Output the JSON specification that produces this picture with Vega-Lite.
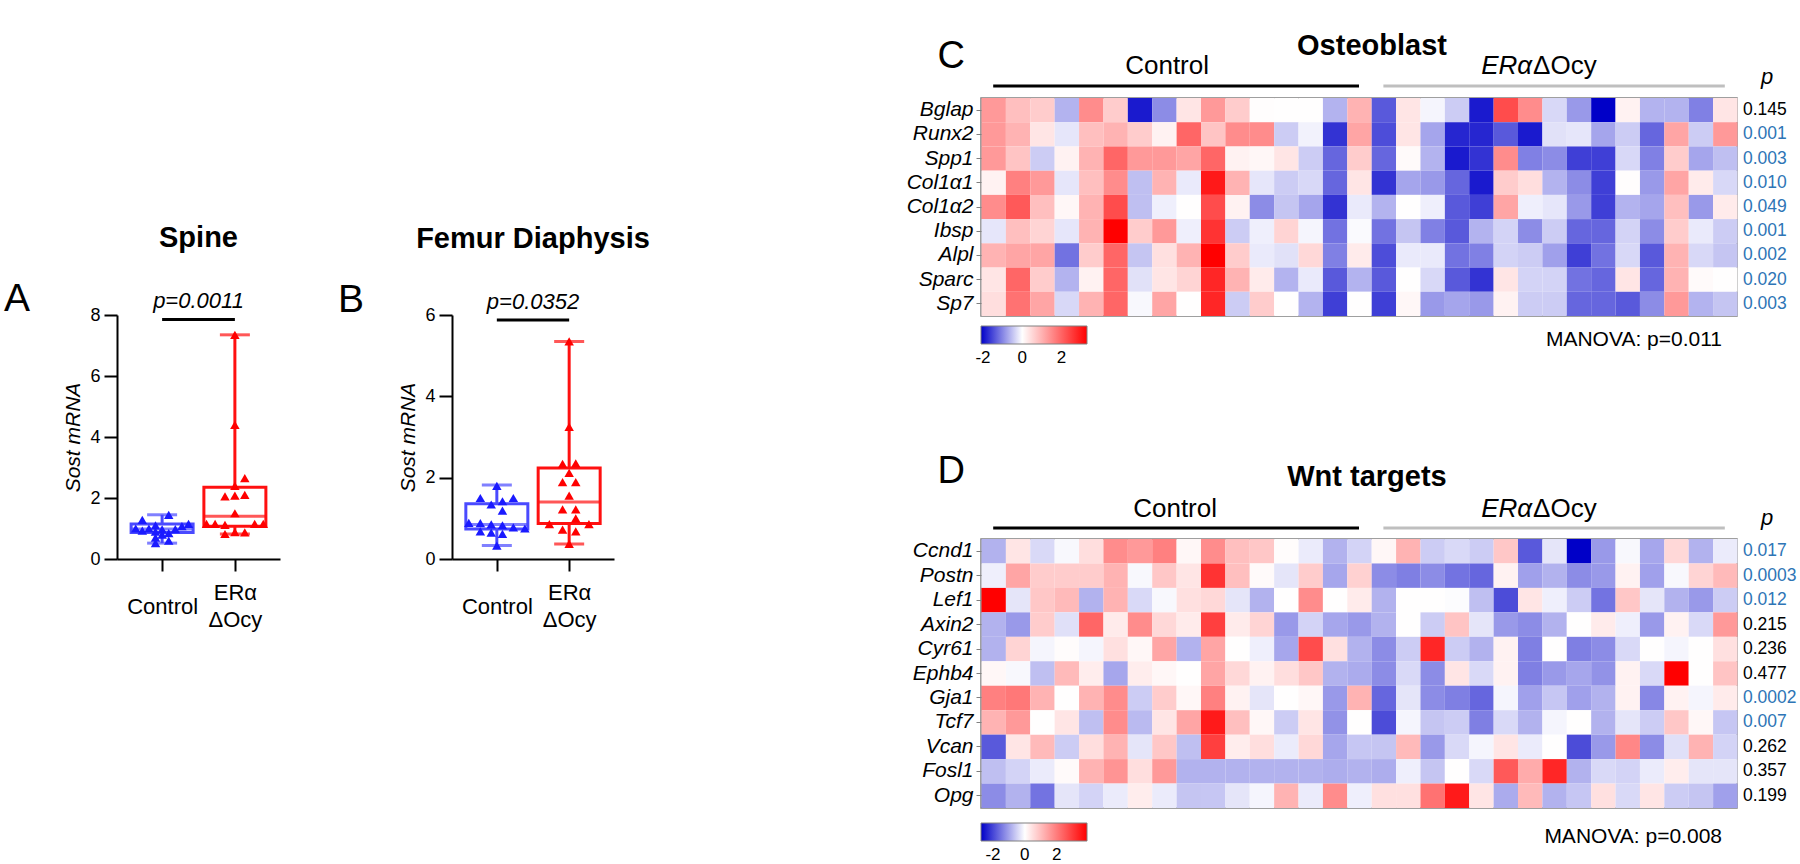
{
"$schema": "https://vega.github.io/schema/vega-lite/v6.json",
"background": "white",
"padding": {"left": 3, "top": 32, "right": 0, "bottom": 0},
"config": {
  "font": "Liberation Sans",
  "view": {"stroke": null},
  "title": {"font": "Liberation Sans", "color": "black", "fontSize": 29, "fontWeight": "bold", "baseline": "alphabetic"},
  "axis": {"labelFont": "Liberation Sans", "titleFont": "Liberation Sans", "labelColor": "black", "titleColor": "black", "grid": false},
  "legend": {"labelFont": "Liberation Sans", "labelColor": "black"},
  "text": {"font": "Liberation Sans"}
},
"datasets": {
  "boxes": [
    {"site": "Spine", "group": "Control", "min": 0.52, "q1": 0.87, "median": 0.98, "q3": 1.15, "max": 1.45},
    {"site": "Spine", "group": "ERα ΔOcy", "min": 0.82, "q1": 1.07, "median": 1.4, "q3": 2.35, "max": 7.35},
    {"site": "Femur", "group": "Control", "min": 0.33, "q1": 0.74, "median": 0.85, "q3": 1.36, "max": 1.82},
    {"site": "Femur", "group": "ERα ΔOcy", "min": 0.37, "q1": 0.87, "median": 1.4, "q3": 2.24, "max": 5.35}
  ],
  "tests": [
    {"site": "Spine", "p": "p=0.0011"},
    {"site": "Femur", "p": "p=0.0352"}
  ],
  "points": [
    {"site": "Spine", "group": "Control", "value": 1.45, "jitter": 1},
    {"site": "Spine", "group": "Control", "value": 1.28, "jitter": -3},
    {"site": "Spine", "group": "Control", "value": 1.15, "jitter": 4},
    {"site": "Spine", "group": "Control", "value": 1.1, "jitter": -1},
    {"site": "Spine", "group": "Control", "value": 1.08, "jitter": 3},
    {"site": "Spine", "group": "Control", "value": 1.0, "jitter": -4},
    {"site": "Spine", "group": "Control", "value": 1.0, "jitter": -2},
    {"site": "Spine", "group": "Control", "value": 0.98, "jitter": 2},
    {"site": "Spine", "group": "Control", "value": 0.97, "jitter": 0},
    {"site": "Spine", "group": "Control", "value": 0.93, "jitter": -3},
    {"site": "Spine", "group": "Control", "value": 0.9, "jitter": -1},
    {"site": "Spine", "group": "Control", "value": 0.85, "jitter": 1},
    {"site": "Spine", "group": "Control", "value": 0.8, "jitter": 0},
    {"site": "Spine", "group": "Control", "value": 0.7, "jitter": -1},
    {"site": "Spine", "group": "Control", "value": 0.6, "jitter": 1},
    {"site": "Spine", "group": "Control", "value": 0.52, "jitter": -1},
    {"site": "Spine", "group": "ERα ΔOcy", "value": 7.35, "jitter": 0},
    {"site": "Spine", "group": "ERα ΔOcy", "value": 4.4, "jitter": 0},
    {"site": "Spine", "group": "ERα ΔOcy", "value": 2.65, "jitter": 1.5},
    {"site": "Spine", "group": "ERα ΔOcy", "value": 2.4, "jitter": 0},
    {"site": "Spine", "group": "ERα ΔOcy", "value": 2.05, "jitter": -1.5},
    {"site": "Spine", "group": "ERα ΔOcy", "value": 2.08, "jitter": 0},
    {"site": "Spine", "group": "ERα ΔOcy", "value": 2.1, "jitter": 1.5},
    {"site": "Spine", "group": "ERα ΔOcy", "value": 1.5, "jitter": 0},
    {"site": "Spine", "group": "ERα ΔOcy", "value": 1.15, "jitter": -4.3},
    {"site": "Spine", "group": "ERα ΔOcy", "value": 1.15, "jitter": -3},
    {"site": "Spine", "group": "ERα ΔOcy", "value": 1.12, "jitter": -1.5},
    {"site": "Spine", "group": "ERα ΔOcy", "value": 1.15, "jitter": 3},
    {"site": "Spine", "group": "ERα ΔOcy", "value": 1.15, "jitter": 4.3},
    {"site": "Spine", "group": "ERα ΔOcy", "value": 0.88, "jitter": 0},
    {"site": "Spine", "group": "ERα ΔOcy", "value": 0.87, "jitter": 1.5},
    {"site": "Spine", "group": "ERα ΔOcy", "value": 0.82, "jitter": -1.5},
    {"site": "Femur", "group": "Control", "value": 1.8, "jitter": 0},
    {"site": "Femur", "group": "Control", "value": 1.5, "jitter": -2.5},
    {"site": "Femur", "group": "Control", "value": 1.5, "jitter": 2.5},
    {"site": "Femur", "group": "Control", "value": 1.42, "jitter": 0.85},
    {"site": "Femur", "group": "Control", "value": 1.34, "jitter": -0.85},
    {"site": "Femur", "group": "Control", "value": 1.19, "jitter": 0.85},
    {"site": "Femur", "group": "Control", "value": 0.89, "jitter": -4.25},
    {"site": "Femur", "group": "Control", "value": 0.88, "jitter": -2.5},
    {"site": "Femur", "group": "Control", "value": 0.85, "jitter": -0.85},
    {"site": "Femur", "group": "Control", "value": 0.83, "jitter": 0.85},
    {"site": "Femur", "group": "Control", "value": 0.78, "jitter": 2.5},
    {"site": "Femur", "group": "Control", "value": 0.75, "jitter": 4.25},
    {"site": "Femur", "group": "Control", "value": 0.68, "jitter": -2.5},
    {"site": "Femur", "group": "Control", "value": 0.65, "jitter": -0.85},
    {"site": "Femur", "group": "Control", "value": 0.62, "jitter": 0.85},
    {"site": "Femur", "group": "Control", "value": 0.33, "jitter": 0},
    {"site": "Femur", "group": "ERα ΔOcy", "value": 5.35, "jitter": 0},
    {"site": "Femur", "group": "ERα ΔOcy", "value": 3.25, "jitter": 0},
    {"site": "Femur", "group": "ERα ΔOcy", "value": 2.34, "jitter": -1},
    {"site": "Femur", "group": "ERα ΔOcy", "value": 2.35, "jitter": 1},
    {"site": "Femur", "group": "ERα ΔOcy", "value": 2.12, "jitter": 0},
    {"site": "Femur", "group": "ERα ΔOcy", "value": 1.89, "jitter": -1},
    {"site": "Femur", "group": "ERα ΔOcy", "value": 1.89, "jitter": 1},
    {"site": "Femur", "group": "ERα ΔOcy", "value": 1.56, "jitter": 0},
    {"site": "Femur", "group": "ERα ΔOcy", "value": 1.22, "jitter": -1},
    {"site": "Femur", "group": "ERα ΔOcy", "value": 1.22, "jitter": 1},
    {"site": "Femur", "group": "ERα ΔOcy", "value": 1.0, "jitter": 1},
    {"site": "Femur", "group": "ERα ΔOcy", "value": 0.86, "jitter": -3},
    {"site": "Femur", "group": "ERα ΔOcy", "value": 0.86, "jitter": 3},
    {"site": "Femur", "group": "ERα ΔOcy", "value": 0.72, "jitter": -1},
    {"site": "Femur", "group": "ERα ΔOcy", "value": 0.68, "jitter": 1},
    {"site": "Femur", "group": "ERα ΔOcy", "value": 0.37, "jitter": 0}
  ],
  "samples": [
    {"sample": 1, "group": "Control"}, {"sample": 2, "group": "Control"}, {"sample": 3, "group": "Control"}, {"sample": 4, "group": "Control"},
    {"sample": 5, "group": "Control"}, {"sample": 6, "group": "Control"}, {"sample": 7, "group": "Control"}, {"sample": 8, "group": "Control"},
    {"sample": 9, "group": "Control"}, {"sample": 10, "group": "Control"}, {"sample": 11, "group": "Control"}, {"sample": 12, "group": "Control"},
    {"sample": 13, "group": "Control"}, {"sample": 14, "group": "Control"}, {"sample": 15, "group": "Control"}, {"sample": 16, "group": "Control"},
    {"sample": 17, "group": "ERα ΔOcy"}, {"sample": 18, "group": "ERα ΔOcy"}, {"sample": 19, "group": "ERα ΔOcy"}, {"sample": 20, "group": "ERα ΔOcy"},
    {"sample": 21, "group": "ERα ΔOcy"}, {"sample": 22, "group": "ERα ΔOcy"}, {"sample": 23, "group": "ERα ΔOcy"}, {"sample": 24, "group": "ERα ΔOcy"},
    {"sample": 25, "group": "ERα ΔOcy"}, {"sample": 26, "group": "ERα ΔOcy"}, {"sample": 27, "group": "ERα ΔOcy"}, {"sample": 28, "group": "ERα ΔOcy"},
    {"sample": 29, "group": "ERα ΔOcy"}, {"sample": 30, "group": "ERα ΔOcy"}, {"sample": 31, "group": "ERα ΔOcy"}
  ],
  "pOsteo": [
    {"gene": "Bglap", "p": "0.145"}, {"gene": "Runx2", "p": "0.001"}, {"gene": "Spp1", "p": "0.003"},
    {"gene": "Col1α1", "p": "0.010"}, {"gene": "Col1α2", "p": "0.049"}, {"gene": "Ibsp", "p": "0.001"},
    {"gene": "Alpl", "p": "0.002"}, {"gene": "Sparc", "p": "0.020"}, {"gene": "Sp7", "p": "0.003"}
  ],
  "pWnt": [
    {"gene": "Ccnd1", "p": "0.017"}, {"gene": "Postn", "p": "0.0003"}, {"gene": "Lef1", "p": "0.012"},
    {"gene": "Axin2", "p": "0.215"}, {"gene": "Cyr61", "p": "0.236"}, {"gene": "Ephb4", "p": "0.477"},
    {"gene": "Gja1", "p": "0.0002"}, {"gene": "Tcf7", "p": "0.007"}, {"gene": "Vcan", "p": "0.262"},
    {"gene": "Fosl1", "p": "0.357"}, {"gene": "Opg", "p": "0.199"}
  ],
  "osteo": [
{"gene":"Bglap","sample":1,"z":1.32},{"gene":"Bglap","sample":2,"z":0.83},{"gene":"Bglap","sample":3,"z":0.66},{"gene":"Bglap","sample":4,"z":-0.63},{"gene":"Bglap","sample":5,"z":1.49},{"gene":"Bglap","sample":6,"z":0.66},{"gene":"Bglap","sample":7,"z":-1.89},{"gene":"Bglap","sample":8,"z":-0.95},{"gene":"Bglap","sample":9,"z":0.33},{"gene":"Bglap","sample":10,"z":1.32},{"gene":"Bglap","sample":11,"z":0.66},{"gene":"Bglap","sample":12,"z":0.02},{"gene":"Bglap","sample":13,"z":0.01},{"gene":"Bglap","sample":14,"z":0.01},{"gene":"Bglap","sample":15,"z":-0.63},{"gene":"Bglap","sample":16,"z":0.99},{"gene":"Bglap","sample":17,"z":-1.37},{"gene":"Bglap","sample":18,"z":0.33},{"gene":"Bglap","sample":19,"z":-0.08},{"gene":"Bglap","sample":20,"z":-0.42},{"gene":"Bglap","sample":21,"z":-1.89},{"gene":"Bglap","sample":22,"z":2.31},{"gene":"Bglap","sample":23,"z":1.49},{"gene":"Bglap","sample":24,"z":-0.32},{"gene":"Bglap","sample":25,"z":-0.84},{"gene":"Bglap","sample":26,"z":-2.1},{"gene":"Bglap","sample":27,"z":0.17},{"gene":"Bglap","sample":28,"z":-0.63},{"gene":"Bglap","sample":29,"z":-0.63},{"gene":"Bglap","sample":30,"z":-1.05},{"gene":"Bglap","sample":31,"z":0.33},
{"gene":"Runx2","sample":1,"z":1.32},{"gene":"Runx2","sample":2,"z":0.99},{"gene":"Runx2","sample":3,"z":0.33},{"gene":"Runx2","sample":4,"z":-0.21},{"gene":"Runx2","sample":5,"z":0.83},{"gene":"Runx2","sample":6,"z":0.99},{"gene":"Runx2","sample":7,"z":0.66},{"gene":"Runx2","sample":8,"z":0.17},{"gene":"Runx2","sample":9,"z":1.98},{"gene":"Runx2","sample":10,"z":0.76},{"gene":"Runx2","sample":11,"z":1.49},{"gene":"Runx2","sample":12,"z":1.49},{"gene":"Runx2","sample":13,"z":-0.42},{"gene":"Runx2","sample":14,"z":-0.11},{"gene":"Runx2","sample":15,"z":-1.68},{"gene":"Runx2","sample":16,"z":1.16},{"gene":"Runx2","sample":17,"z":-1.47},{"gene":"Runx2","sample":18,"z":0.33},{"gene":"Runx2","sample":19,"z":-0.74},{"gene":"Runx2","sample":20,"z":-1.79},{"gene":"Runx2","sample":21,"z":-1.79},{"gene":"Runx2","sample":22,"z":-1.37},{"gene":"Runx2","sample":23,"z":-1.89},{"gene":"Runx2","sample":24,"z":-0.25},{"gene":"Runx2","sample":25,"z":-0.21},{"gene":"Runx2","sample":26,"z":-0.74},{"gene":"Runx2","sample":27,"z":-0.42},{"gene":"Runx2","sample":28,"z":-1.26},{"gene":"Runx2","sample":29,"z":1.16},{"gene":"Runx2","sample":30,"z":-0.42},{"gene":"Runx2","sample":31,"z":1.32},
{"gene":"Spp1","sample":1,"z":1.32},{"gene":"Spp1","sample":2,"z":0.76},{"gene":"Spp1","sample":3,"z":-0.42},{"gene":"Spp1","sample":4,"z":0.17},{"gene":"Spp1","sample":5,"z":0.99},{"gene":"Spp1","sample":6,"z":1.98},{"gene":"Spp1","sample":7,"z":1.32},{"gene":"Spp1","sample":8,"z":1.32},{"gene":"Spp1","sample":9,"z":1.16},{"gene":"Spp1","sample":10,"z":1.98},{"gene":"Spp1","sample":11,"z":0.17},{"gene":"Spp1","sample":12,"z":0.1},{"gene":"Spp1","sample":13,"z":0.33},{"gene":"Spp1","sample":14,"z":-0.42},{"gene":"Spp1","sample":15,"z":-1.26},{"gene":"Spp1","sample":16,"z":0.66},{"gene":"Spp1","sample":17,"z":-1.26},{"gene":"Spp1","sample":18,"z":0.07},{"gene":"Spp1","sample":19,"z":-0.63},{"gene":"Spp1","sample":20,"z":-1.89},{"gene":"Spp1","sample":21,"z":-1.68},{"gene":"Spp1","sample":22,"z":1.49},{"gene":"Spp1","sample":23,"z":-1.05},{"gene":"Spp1","sample":24,"z":-0.95},{"gene":"Spp1","sample":25,"z":-1.58},{"gene":"Spp1","sample":26,"z":-1.58},{"gene":"Spp1","sample":27,"z":-0.32},{"gene":"Spp1","sample":28,"z":-1.05},{"gene":"Spp1","sample":29,"z":0.66},{"gene":"Spp1","sample":30,"z":-0.74},{"gene":"Spp1","sample":31,"z":-0.53},
{"gene":"Col1α1","sample":1,"z":0.17},{"gene":"Col1α1","sample":2,"z":1.65},{"gene":"Col1α1","sample":3,"z":1.32},{"gene":"Col1α1","sample":4,"z":-0.21},{"gene":"Col1α1","sample":5,"z":0.83},{"gene":"Col1α1","sample":6,"z":1.49},{"gene":"Col1α1","sample":7,"z":-0.53},{"gene":"Col1α1","sample":8,"z":0.99},{"gene":"Col1α1","sample":9,"z":-0.17},{"gene":"Col1α1","sample":10,"z":2.97},{"gene":"Col1α1","sample":11,"z":0.99},{"gene":"Col1α1","sample":12,"z":-0.21},{"gene":"Col1α1","sample":13,"z":-0.42},{"gene":"Col1α1","sample":14,"z":-0.32},{"gene":"Col1α1","sample":15,"z":-1.26},{"gene":"Col1α1","sample":16,"z":0.33},{"gene":"Col1α1","sample":17,"z":-1.68},{"gene":"Col1α1","sample":18,"z":-0.74},{"gene":"Col1α1","sample":19,"z":-0.84},{"gene":"Col1α1","sample":20,"z":-1.26},{"gene":"Col1α1","sample":21,"z":-1.89},{"gene":"Col1α1","sample":22,"z":0.66},{"gene":"Col1α1","sample":23,"z":0.43},{"gene":"Col1α1","sample":24,"z":-0.63},{"gene":"Col1α1","sample":25,"z":-0.95},{"gene":"Col1α1","sample":26,"z":-1.58},{"gene":"Col1α1","sample":27,"z":0.03},{"gene":"Col1α1","sample":28,"z":-0.84},{"gene":"Col1α1","sample":29,"z":1.16},{"gene":"Col1α1","sample":30,"z":0.26},{"gene":"Col1α1","sample":31,"z":-0.32},
{"gene":"Col1α2","sample":1,"z":1.49},{"gene":"Col1α2","sample":2,"z":2.15},{"gene":"Col1α2","sample":3,"z":0.83},{"gene":"Col1α2","sample":4,"z":0.1},{"gene":"Col1α2","sample":5,"z":0.99},{"gene":"Col1α2","sample":6,"z":2.31},{"gene":"Col1α2","sample":7,"z":-0.53},{"gene":"Col1α2","sample":8,"z":-0.13},{"gene":"Col1α2","sample":9,"z":0.01},{"gene":"Col1α2","sample":10,"z":2.31},{"gene":"Col1α2","sample":11,"z":0.17},{"gene":"Col1α2","sample":12,"z":-0.95},{"gene":"Col1α2","sample":13,"z":-0.48},{"gene":"Col1α2","sample":14,"z":-0.74},{"gene":"Col1α2","sample":15,"z":-1.68},{"gene":"Col1α2","sample":16,"z":-0.17},{"gene":"Col1α2","sample":17,"z":-0.63},{"gene":"Col1α2","sample":18,"z":0.01},{"gene":"Col1α2","sample":19,"z":-0.13},{"gene":"Col1α2","sample":20,"z":-1.37},{"gene":"Col1α2","sample":21,"z":-1.58},{"gene":"Col1α2","sample":22,"z":1.16},{"gene":"Col1α2","sample":23,"z":-0.13},{"gene":"Col1α2","sample":24,"z":-0.21},{"gene":"Col1α2","sample":25,"z":-0.84},{"gene":"Col1α2","sample":26,"z":-1.58},{"gene":"Col1α2","sample":27,"z":-0.63},{"gene":"Col1α2","sample":28,"z":-0.74},{"gene":"Col1α2","sample":29,"z":0.83},{"gene":"Col1α2","sample":30,"z":-0.84},{"gene":"Col1α2","sample":31,"z":0.26},
{"gene":"Ibsp","sample":1,"z":-0.21},{"gene":"Ibsp","sample":2,"z":0.83},{"gene":"Ibsp","sample":3,"z":0.56},{"gene":"Ibsp","sample":4,"z":-0.21},{"gene":"Ibsp","sample":5,"z":0.99},{"gene":"Ibsp","sample":6,"z":3.3},{"gene":"Ibsp","sample":7,"z":0.66},{"gene":"Ibsp","sample":8,"z":1.32},{"gene":"Ibsp","sample":9,"z":-0.13},{"gene":"Ibsp","sample":10,"z":2.64},{"gene":"Ibsp","sample":11,"z":-0.42},{"gene":"Ibsp","sample":12,"z":-0.13},{"gene":"Ibsp","sample":13,"z":0.56},{"gene":"Ibsp","sample":14,"z":-0.08},{"gene":"Ibsp","sample":15,"z":-1.16},{"gene":"Ibsp","sample":16,"z":-0.04},{"gene":"Ibsp","sample":17,"z":-1.16},{"gene":"Ibsp","sample":18,"z":-0.48},{"gene":"Ibsp","sample":19,"z":-1.05},{"gene":"Ibsp","sample":20,"z":-1.37},{"gene":"Ibsp","sample":21,"z":-0.63},{"gene":"Ibsp","sample":22,"z":-0.36},{"gene":"Ibsp","sample":23,"z":-0.95},{"gene":"Ibsp","sample":24,"z":-0.42},{"gene":"Ibsp","sample":25,"z":-1.26},{"gene":"Ibsp","sample":26,"z":-1.26},{"gene":"Ibsp","sample":27,"z":-0.36},{"gene":"Ibsp","sample":28,"z":-0.95},{"gene":"Ibsp","sample":29,"z":0.66},{"gene":"Ibsp","sample":30,"z":-0.17},{"gene":"Ibsp","sample":31,"z":-0.42},
{"gene":"Alpl","sample":1,"z":0.99},{"gene":"Alpl","sample":2,"z":1.16},{"gene":"Alpl","sample":3,"z":1.16},{"gene":"Alpl","sample":4,"z":-1.16},{"gene":"Alpl","sample":5,"z":0.66},{"gene":"Alpl","sample":6,"z":1.98},{"gene":"Alpl","sample":7,"z":-0.48},{"gene":"Alpl","sample":8,"z":0.4},{"gene":"Alpl","sample":9,"z":0.99},{"gene":"Alpl","sample":10,"z":3.3},{"gene":"Alpl","sample":11,"z":0.66},{"gene":"Alpl","sample":12,"z":-0.17},{"gene":"Alpl","sample":13,"z":-0.25},{"gene":"Alpl","sample":14,"z":0.5},{"gene":"Alpl","sample":15,"z":-1.05},{"gene":"Alpl","sample":16,"z":0.26},{"gene":"Alpl","sample":17,"z":-1.47},{"gene":"Alpl","sample":18,"z":-0.17},{"gene":"Alpl","sample":19,"z":-0.17},{"gene":"Alpl","sample":20,"z":-1.16},{"gene":"Alpl","sample":21,"z":-1.05},{"gene":"Alpl","sample":22,"z":-0.36},{"gene":"Alpl","sample":23,"z":-0.42},{"gene":"Alpl","sample":24,"z":-0.78},{"gene":"Alpl","sample":25,"z":-1.58},{"gene":"Alpl","sample":26,"z":-1.16},{"gene":"Alpl","sample":27,"z":-0.32},{"gene":"Alpl","sample":28,"z":-1.37},{"gene":"Alpl","sample":29,"z":0.99},{"gene":"Alpl","sample":30,"z":-0.32},{"gene":"Alpl","sample":31,"z":-0.48},
{"gene":"Sparc","sample":1,"z":0.33},{"gene":"Sparc","sample":2,"z":1.98},{"gene":"Sparc","sample":3,"z":0.66},{"gene":"Sparc","sample":4,"z":-0.63},{"gene":"Sparc","sample":5,"z":0.17},{"gene":"Sparc","sample":6,"z":1.98},{"gene":"Sparc","sample":7,"z":-0.25},{"gene":"Sparc","sample":8,"z":0.33},{"gene":"Sparc","sample":9,"z":0.56},{"gene":"Sparc","sample":10,"z":2.81},{"gene":"Sparc","sample":11,"z":0.99},{"gene":"Sparc","sample":12,"z":0.26},{"gene":"Sparc","sample":13,"z":-0.63},{"gene":"Sparc","sample":14,"z":-0.17},{"gene":"Sparc","sample":15,"z":-1.37},{"gene":"Sparc","sample":16,"z":-0.63},{"gene":"Sparc","sample":17,"z":-1.37},{"gene":"Sparc","sample":18,"z":0.01},{"gene":"Sparc","sample":19,"z":-0.32},{"gene":"Sparc","sample":20,"z":-1.37},{"gene":"Sparc","sample":21,"z":-1.68},{"gene":"Sparc","sample":22,"z":0.33},{"gene":"Sparc","sample":23,"z":-0.36},{"gene":"Sparc","sample":24,"z":-0.36},{"gene":"Sparc","sample":25,"z":-1.16},{"gene":"Sparc","sample":26,"z":-1.26},{"gene":"Sparc","sample":27,"z":0.33},{"gene":"Sparc","sample":28,"z":-1.26},{"gene":"Sparc","sample":29,"z":0.99},{"gene":"Sparc","sample":30,"z":0.07},{"gene":"Sparc","sample":31,"z":0.01},
{"gene":"Sp7","sample":1,"z":0.43},{"gene":"Sp7","sample":2,"z":1.82},{"gene":"Sp7","sample":3,"z":1.16},{"gene":"Sp7","sample":4,"z":-0.32},{"gene":"Sp7","sample":5,"z":0.99},{"gene":"Sp7","sample":6,"z":1.98},{"gene":"Sp7","sample":7,"z":-0.06},{"gene":"Sp7","sample":8,"z":1.16},{"gene":"Sp7","sample":9,"z":0.01},{"gene":"Sp7","sample":10,"z":2.81},{"gene":"Sp7","sample":11,"z":-0.42},{"gene":"Sp7","sample":12,"z":0.66},{"gene":"Sp7","sample":13,"z":0.01},{"gene":"Sp7","sample":14,"z":-0.63},{"gene":"Sp7","sample":15,"z":-1.58},{"gene":"Sp7","sample":16,"z":0.01},{"gene":"Sp7","sample":17,"z":-1.58},{"gene":"Sp7","sample":18,"z":0.1},{"gene":"Sp7","sample":19,"z":-0.84},{"gene":"Sp7","sample":20,"z":-0.74},{"gene":"Sp7","sample":21,"z":-0.84},{"gene":"Sp7","sample":22,"z":0.17},{"gene":"Sp7","sample":23,"z":-0.42},{"gene":"Sp7","sample":24,"z":-0.42},{"gene":"Sp7","sample":25,"z":-1.26},{"gene":"Sp7","sample":26,"z":-1.26},{"gene":"Sp7","sample":27,"z":-1.37},{"gene":"Sp7","sample":28,"z":-0.95},{"gene":"Sp7","sample":29,"z":1.32},{"gene":"Sp7","sample":30,"z":-0.63},{"gene":"Sp7","sample":31,"z":-0.48}
  ],
  "wnt": [
{"gene":"Ccnd1","sample":1,"z":-0.83},{"gene":"Ccnd1","sample":2,"z":0.39},{"gene":"Ccnd1","sample":3,"z":-0.41},{"gene":"Ccnd1","sample":4,"z":-0.08},{"gene":"Ccnd1","sample":5,"z":0.51},{"gene":"Ccnd1","sample":6,"z":1.76},{"gene":"Ccnd1","sample":7,"z":1.56},{"gene":"Ccnd1","sample":8,"z":1.95},{"gene":"Ccnd1","sample":9,"z":0.12},{"gene":"Ccnd1","sample":10,"z":1.76},{"gene":"Ccnd1","sample":11,"z":0.98},{"gene":"Ccnd1","sample":12,"z":0.86},{"gene":"Ccnd1","sample":13,"z":0.04},{"gene":"Ccnd1","sample":14,"z":-0.22},{"gene":"Ccnd1","sample":15,"z":-0.83},{"gene":"Ccnd1","sample":16,"z":-0.47},{"gene":"Ccnd1","sample":17,"z":0.12},{"gene":"Ccnd1","sample":18,"z":1.17},{"gene":"Ccnd1","sample":19,"z":-0.55},{"gene":"Ccnd1","sample":20,"z":-0.41},{"gene":"Ccnd1","sample":21,"z":-0.55},{"gene":"Ccnd1","sample":22,"z":0.86},{"gene":"Ccnd1","sample":23,"z":-1.79},{"gene":"Ccnd1","sample":24,"z":-0.28},{"gene":"Ccnd1","sample":25,"z":-2.75},{"gene":"Ccnd1","sample":26,"z":-1.1},{"gene":"Ccnd1","sample":27,"z":-0.08},{"gene":"Ccnd1","sample":28,"z":-0.96},{"gene":"Ccnd1","sample":29,"z":0.59},{"gene":"Ccnd1","sample":30,"z":-0.83},{"gene":"Ccnd1","sample":31,"z":-0.22},
{"gene":"Postn","sample":1,"z":-0.17},{"gene":"Postn","sample":2,"z":1.37},{"gene":"Postn","sample":3,"z":0.78},{"gene":"Postn","sample":4,"z":0.78},{"gene":"Postn","sample":5,"z":0.78},{"gene":"Postn","sample":6,"z":1.17},{"gene":"Postn","sample":7,"z":-0.08},{"gene":"Postn","sample":8,"z":0.86},{"gene":"Postn","sample":9,"z":0.39},{"gene":"Postn","sample":10,"z":3.12},{"gene":"Postn","sample":11,"z":0.98},{"gene":"Postn","sample":12,"z":0.08},{"gene":"Postn","sample":13,"z":-0.28},{"gene":"Postn","sample":14,"z":0.78},{"gene":"Postn","sample":15,"z":-0.96},{"gene":"Postn","sample":16,"z":0.7},{"gene":"Postn","sample":17,"z":-1.24},{"gene":"Postn","sample":18,"z":-1.38},{"gene":"Postn","sample":19,"z":-1.24},{"gene":"Postn","sample":20,"z":-1.51},{"gene":"Postn","sample":21,"z":-1.65},{"gene":"Postn","sample":22,"z":0.2},{"gene":"Postn","sample":23,"z":-1.02},{"gene":"Postn","sample":24,"z":-0.83},{"gene":"Postn","sample":25,"z":-1.24},{"gene":"Postn","sample":26,"z":-1.1},{"gene":"Postn","sample":27,"z":0.2},{"gene":"Postn","sample":28,"z":-1.02},{"gene":"Postn","sample":29,"z":-0.08},{"gene":"Postn","sample":30,"z":0.66},{"gene":"Postn","sample":31,"z":1.05},
{"gene":"Lef1","sample":1,"z":3.9},{"gene":"Lef1","sample":2,"z":-0.28},{"gene":"Lef1","sample":3,"z":0.86},{"gene":"Lef1","sample":4,"z":1.05},{"gene":"Lef1","sample":5,"z":-0.83},{"gene":"Lef1","sample":6,"z":1.17},{"gene":"Lef1","sample":7,"z":-0.41},{"gene":"Lef1","sample":8,"z":-0.08},{"gene":"Lef1","sample":9,"z":0.47},{"gene":"Lef1","sample":10,"z":0.59},{"gene":"Lef1","sample":11,"z":-0.28},{"gene":"Lef1","sample":12,"z":-0.83},{"gene":"Lef1","sample":13,"z":0.01},{"gene":"Lef1","sample":14,"z":1.76},{"gene":"Lef1","sample":15,"z":0.02},{"gene":"Lef1","sample":16,"z":0.31},{"gene":"Lef1","sample":17,"z":-0.83},{"gene":"Lef1","sample":18,"z":0.01},{"gene":"Lef1","sample":19,"z":0.01},{"gene":"Lef1","sample":20,"z":-0.03},{"gene":"Lef1","sample":21,"z":-0.69},{"gene":"Lef1","sample":22,"z":-1.93},{"gene":"Lef1","sample":23,"z":0.39},{"gene":"Lef1","sample":24,"z":-0.17},{"gene":"Lef1","sample":25,"z":-0.55},{"gene":"Lef1","sample":26,"z":-1.51},{"gene":"Lef1","sample":27,"z":0.86},{"gene":"Lef1","sample":28,"z":-0.28},{"gene":"Lef1","sample":29,"z":-0.83},{"gene":"Lef1","sample":30,"z":-1.1},{"gene":"Lef1","sample":31,"z":-0.55},
{"gene":"Axin2","sample":1,"z":-0.83},{"gene":"Axin2","sample":2,"z":-1.1},{"gene":"Axin2","sample":3,"z":0.78},{"gene":"Axin2","sample":4,"z":-0.33},{"gene":"Axin2","sample":5,"z":2.34},{"gene":"Axin2","sample":6,"z":0.31},{"gene":"Axin2","sample":7,"z":1.76},{"gene":"Axin2","sample":8,"z":0.59},{"gene":"Axin2","sample":9,"z":0.31},{"gene":"Axin2","sample":10,"z":2.93},{"gene":"Axin2","sample":11,"z":0.31},{"gene":"Axin2","sample":12,"z":0.66},{"gene":"Axin2","sample":13,"z":-1.1},{"gene":"Axin2","sample":14,"z":-0.47},{"gene":"Axin2","sample":15,"z":-0.96},{"gene":"Axin2","sample":16,"z":-1.1},{"gene":"Axin2","sample":17,"z":-0.83},{"gene":"Axin2","sample":18,"z":0.01},{"gene":"Axin2","sample":19,"z":-0.55},{"gene":"Axin2","sample":20,"z":0.9},{"gene":"Axin2","sample":21,"z":-0.28},{"gene":"Axin2","sample":22,"z":-1.1},{"gene":"Axin2","sample":23,"z":-1.24},{"gene":"Axin2","sample":24,"z":-0.83},{"gene":"Axin2","sample":25,"z":0.01},{"gene":"Axin2","sample":26,"z":0.31},{"gene":"Axin2","sample":27,"z":-0.17},{"gene":"Axin2","sample":28,"z":-1.1},{"gene":"Axin2","sample":29,"z":0.2},{"gene":"Axin2","sample":30,"z":-0.41},{"gene":"Axin2","sample":31,"z":1.56},
{"gene":"Cyr61","sample":1,"z":-0.83},{"gene":"Cyr61","sample":2,"z":0.66},{"gene":"Cyr61","sample":3,"z":-0.11},{"gene":"Cyr61","sample":4,"z":0.04},{"gene":"Cyr61","sample":5,"z":-0.11},{"gene":"Cyr61","sample":6,"z":0.47},{"gene":"Cyr61","sample":7,"z":0.12},{"gene":"Cyr61","sample":8,"z":1.37},{"gene":"Cyr61","sample":9,"z":-0.83},{"gene":"Cyr61","sample":10,"z":1.37},{"gene":"Cyr61","sample":11,"z":0.01},{"gene":"Cyr61","sample":12,"z":-0.17},{"gene":"Cyr61","sample":13,"z":-0.96},{"gene":"Cyr61","sample":14,"z":2.73},{"gene":"Cyr61","sample":15,"z":0.47},{"gene":"Cyr61","sample":16,"z":-0.83},{"gene":"Cyr61","sample":17,"z":-1.24},{"gene":"Cyr61","sample":18,"z":-0.55},{"gene":"Cyr61","sample":19,"z":3.32},{"gene":"Cyr61","sample":20,"z":-0.55},{"gene":"Cyr61","sample":21,"z":-0.83},{"gene":"Cyr61","sample":22,"z":0.2},{"gene":"Cyr61","sample":23,"z":-1.38},{"gene":"Cyr61","sample":24,"z":0.01},{"gene":"Cyr61","sample":25,"z":-1.38},{"gene":"Cyr61","sample":26,"z":-1.24},{"gene":"Cyr61","sample":27,"z":-0.41},{"gene":"Cyr61","sample":28,"z":0.01},{"gene":"Cyr61","sample":29,"z":-0.11},{"gene":"Cyr61","sample":30,"z":0.01},{"gene":"Cyr61","sample":31,"z":0.47},
{"gene":"Ephb4","sample":1,"z":0.12},{"gene":"Ephb4","sample":2,"z":-0.08},{"gene":"Ephb4","sample":3,"z":-0.69},{"gene":"Ephb4","sample":4,"z":1.05},{"gene":"Ephb4","sample":5,"z":0.27},{"gene":"Ephb4","sample":6,"z":-0.96},{"gene":"Ephb4","sample":7,"z":0.27},{"gene":"Ephb4","sample":8,"z":0.12},{"gene":"Ephb4","sample":9,"z":0.01},{"gene":"Ephb4","sample":10,"z":1.37},{"gene":"Ephb4","sample":11,"z":0.59},{"gene":"Ephb4","sample":12,"z":0.2},{"gene":"Ephb4","sample":13,"z":0.51},{"gene":"Ephb4","sample":14,"z":0.86},{"gene":"Ephb4","sample":15,"z":-0.83},{"gene":"Ephb4","sample":16,"z":-0.91},{"gene":"Ephb4","sample":17,"z":-1.24},{"gene":"Ephb4","sample":18,"z":-0.41},{"gene":"Ephb4","sample":19,"z":-1.24},{"gene":"Ephb4","sample":20,"z":0.39},{"gene":"Ephb4","sample":21,"z":-0.41},{"gene":"Ephb4","sample":22,"z":0.2},{"gene":"Ephb4","sample":23,"z":-1.38},{"gene":"Ephb4","sample":24,"z":-1.1},{"gene":"Ephb4","sample":25,"z":-0.96},{"gene":"Ephb4","sample":26,"z":-1.18},{"gene":"Ephb4","sample":27,"z":0.2},{"gene":"Ephb4","sample":28,"z":-0.41},{"gene":"Ephb4","sample":29,"z":3.9},{"gene":"Ephb4","sample":30,"z":0.01},{"gene":"Ephb4","sample":31,"z":0.9},
{"gene":"Gja1","sample":1,"z":1.95},{"gene":"Gja1","sample":2,"z":2.07},{"gene":"Gja1","sample":3,"z":1.17},{"gene":"Gja1","sample":4,"z":0.01},{"gene":"Gja1","sample":5,"z":1.17},{"gene":"Gja1","sample":6,"z":1.76},{"gene":"Gja1","sample":7,"z":-0.55},{"gene":"Gja1","sample":8,"z":0.78},{"gene":"Gja1","sample":9,"z":0.12},{"gene":"Gja1","sample":10,"z":1.95},{"gene":"Gja1","sample":11,"z":0.2},{"gene":"Gja1","sample":12,"z":-0.28},{"gene":"Gja1","sample":13,"z":0.01},{"gene":"Gja1","sample":14,"z":0.12},{"gene":"Gja1","sample":15,"z":-1.1},{"gene":"Gja1","sample":16,"z":1.17},{"gene":"Gja1","sample":17,"z":-1.65},{"gene":"Gja1","sample":18,"z":-0.28},{"gene":"Gja1","sample":19,"z":-1.24},{"gene":"Gja1","sample":20,"z":-1.38},{"gene":"Gja1","sample":21,"z":-1.65},{"gene":"Gja1","sample":22,"z":-0.11},{"gene":"Gja1","sample":23,"z":-1.02},{"gene":"Gja1","sample":24,"z":-0.61},{"gene":"Gja1","sample":25,"z":-1.02},{"gene":"Gja1","sample":26,"z":-0.83},{"gene":"Gja1","sample":27,"z":0.2},{"gene":"Gja1","sample":28,"z":-1.29},{"gene":"Gja1","sample":29,"z":0.2},{"gene":"Gja1","sample":30,"z":-0.11},{"gene":"Gja1","sample":31,"z":0.31},
{"gene":"Tcf7","sample":1,"z":1.17},{"gene":"Tcf7","sample":2,"z":1.56},{"gene":"Tcf7","sample":3,"z":0.01},{"gene":"Tcf7","sample":4,"z":0.39},{"gene":"Tcf7","sample":5,"z":-0.69},{"gene":"Tcf7","sample":6,"z":1.76},{"gene":"Tcf7","sample":7,"z":-0.74},{"gene":"Tcf7","sample":8,"z":0.39},{"gene":"Tcf7","sample":9,"z":1.37},{"gene":"Tcf7","sample":10,"z":3.51},{"gene":"Tcf7","sample":11,"z":0.98},{"gene":"Tcf7","sample":12,"z":0.12},{"gene":"Tcf7","sample":13,"z":-0.55},{"gene":"Tcf7","sample":14,"z":0.39},{"gene":"Tcf7","sample":15,"z":-1.18},{"gene":"Tcf7","sample":16,"z":0.01},{"gene":"Tcf7","sample":17,"z":-1.93},{"gene":"Tcf7","sample":18,"z":-0.11},{"gene":"Tcf7","sample":19,"z":-0.63},{"gene":"Tcf7","sample":20,"z":-0.55},{"gene":"Tcf7","sample":21,"z":-1.38},{"gene":"Tcf7","sample":22,"z":-0.41},{"gene":"Tcf7","sample":23,"z":-0.83},{"gene":"Tcf7","sample":24,"z":-0.11},{"gene":"Tcf7","sample":25,"z":0.01},{"gene":"Tcf7","sample":26,"z":-0.83},{"gene":"Tcf7","sample":27,"z":-0.28},{"gene":"Tcf7","sample":28,"z":-0.55},{"gene":"Tcf7","sample":29,"z":0.86},{"gene":"Tcf7","sample":30,"z":0.12},{"gene":"Tcf7","sample":31,"z":-0.61},
{"gene":"Vcan","sample":1,"z":-1.79},{"gene":"Vcan","sample":2,"z":0.39},{"gene":"Vcan","sample":3,"z":1.05},{"gene":"Vcan","sample":4,"z":-0.55},{"gene":"Vcan","sample":5,"z":0.51},{"gene":"Vcan","sample":6,"z":1.17},{"gene":"Vcan","sample":7,"z":-0.28},{"gene":"Vcan","sample":8,"z":0.86},{"gene":"Vcan","sample":9,"z":-0.69},{"gene":"Vcan","sample":10,"z":2.93},{"gene":"Vcan","sample":11,"z":0.27},{"gene":"Vcan","sample":12,"z":0.51},{"gene":"Vcan","sample":13,"z":-0.22},{"gene":"Vcan","sample":14,"z":0.59},{"gene":"Vcan","sample":15,"z":-0.96},{"gene":"Vcan","sample":16,"z":-0.61},{"gene":"Vcan","sample":17,"z":-0.63},{"gene":"Vcan","sample":18,"z":1.05},{"gene":"Vcan","sample":19,"z":-1.1},{"gene":"Vcan","sample":20,"z":-0.41},{"gene":"Vcan","sample":21,"z":-0.11},{"gene":"Vcan","sample":22,"z":0.39},{"gene":"Vcan","sample":23,"z":-0.22},{"gene":"Vcan","sample":24,"z":0.01},{"gene":"Vcan","sample":25,"z":-1.93},{"gene":"Vcan","sample":26,"z":-1.1},{"gene":"Vcan","sample":27,"z":1.83},{"gene":"Vcan","sample":28,"z":-1.24},{"gene":"Vcan","sample":29,"z":-0.33},{"gene":"Vcan","sample":30,"z":1.17},{"gene":"Vcan","sample":31,"z":-0.47},
{"gene":"Fosl1","sample":1,"z":-0.69},{"gene":"Fosl1","sample":2,"z":-0.47},{"gene":"Fosl1","sample":3,"z":-0.22},{"gene":"Fosl1","sample":4,"z":0.08},{"gene":"Fosl1","sample":5,"z":1.17},{"gene":"Fosl1","sample":6,"z":1.64},{"gene":"Fosl1","sample":7,"z":0.51},{"gene":"Fosl1","sample":8,"z":1.56},{"gene":"Fosl1","sample":9,"z":-0.83},{"gene":"Fosl1","sample":10,"z":-0.83},{"gene":"Fosl1","sample":11,"z":-0.83},{"gene":"Fosl1","sample":12,"z":-0.83},{"gene":"Fosl1","sample":13,"z":-0.83},{"gene":"Fosl1","sample":14,"z":-0.83},{"gene":"Fosl1","sample":15,"z":-0.88},{"gene":"Fosl1","sample":16,"z":-0.83},{"gene":"Fosl1","sample":17,"z":-0.88},{"gene":"Fosl1","sample":18,"z":-0.17},{"gene":"Fosl1","sample":19,"z":-0.63},{"gene":"Fosl1","sample":20,"z":0.01},{"gene":"Fosl1","sample":21,"z":-0.41},{"gene":"Fosl1","sample":22,"z":2.54},{"gene":"Fosl1","sample":23,"z":1.29},{"gene":"Fosl1","sample":24,"z":3.32},{"gene":"Fosl1","sample":25,"z":-0.83},{"gene":"Fosl1","sample":26,"z":-0.41},{"gene":"Fosl1","sample":27,"z":-0.47},{"gene":"Fosl1","sample":28,"z":-0.22},{"gene":"Fosl1","sample":29,"z":0.27},{"gene":"Fosl1","sample":30,"z":-0.28},{"gene":"Fosl1","sample":31,"z":-0.28},
{"gene":"Opg","sample":1,"z":-1.24},{"gene":"Opg","sample":2,"z":-0.83},{"gene":"Opg","sample":3,"z":-1.51},{"gene":"Opg","sample":4,"z":-0.28},{"gene":"Opg","sample":5,"z":-0.47},{"gene":"Opg","sample":6,"z":-0.22},{"gene":"Opg","sample":7,"z":0.27},{"gene":"Opg","sample":8,"z":-0.22},{"gene":"Opg","sample":9,"z":-0.63},{"gene":"Opg","sample":10,"z":-0.61},{"gene":"Opg","sample":11,"z":-0.28},{"gene":"Opg","sample":12,"z":-0.11},{"gene":"Opg","sample":13,"z":1.17},{"gene":"Opg","sample":14,"z":-0.22},{"gene":"Opg","sample":15,"z":1.76},{"gene":"Opg","sample":16,"z":-0.17},{"gene":"Opg","sample":17,"z":0.47},{"gene":"Opg","sample":18,"z":0.47},{"gene":"Opg","sample":19,"z":2.15},{"gene":"Opg","sample":20,"z":3.51},{"gene":"Opg","sample":21,"z":0.39},{"gene":"Opg","sample":22,"z":-0.91},{"gene":"Opg","sample":23,"z":1.05},{"gene":"Opg","sample":24,"z":-0.83},{"gene":"Opg","sample":25,"z":-0.61},{"gene":"Opg","sample":26,"z":0.47},{"gene":"Opg","sample":27,"z":-0.41},{"gene":"Opg","sample":28,"z":0.39},{"gene":"Opg","sample":29,"z":-0.55},{"gene":"Opg","sample":30,"z":-0.63},{"gene":"Opg","sample":31,"z":-1.02}
  ]
},
"resolve": {"scale": {"color": "independent", "fill": "independent", "x": "independent", "y": "independent"}},
"spacing": 255,
"hconcat": [
  {
    "spacing": 0,
    "resolve": {"scale": {"color": "independent", "fill": "independent"}},
    "vconcat": [
      {"data": {"values": []}, "mark": "point", "encoding": {}, "width": 10, "height": 158},
      {
        "spacing": 57,
        "resolve": {"scale": {"color": "independent", "fill": "independent"}},
        "hconcat": [
          {
            "title": {"text": "A", "anchor": "start", "fontSize": 39, "fontWeight": "normal", "offset": 0, "dx": -59, "dy": 95},
            "vconcat": [
              {
                "title": {"text": "Spine", "frame": "group", "offset": 37},
                "width": 163, "height": 244,
                "layer": [
                  {"data": {"name": "boxes"}, "transform": [{"filter": "datum.site == 'Spine'"}],
                   "mark": {"type": "rule", "strokeWidth": 3},
                   "encoding": {
                     "x": {"field": "group", "type": "nominal", "scale": {"type": "point", "domain": ["Control", "ERα ΔOcy"], "padding": 0.62},
                           "axis": {"title": null, "labelAngle": 0, "labelExpr": "split(datum.label, ' ')", "labelFontSize": 22, "labelBaseline": {"condition": {"test": "datum.value == 'Control'", "value": "middle"}, "value": "line-bottom"}, "labelPadding": 35, "labelLineHeight": 27, "tickSize": 12, "tickWidth": 2, "tickColor": "black", "domainColor": "black", "domainWidth": 2}},
                     "y": {"field": "min", "type": "quantitative", "title": "Sost mRNA", "scale": {"domain": [0, 8], "nice": false},
                           "axis": {"values": [0, 2, 4, 6, 8], "titleFontStyle": "italic", "titleFontWeight": "normal", "titleFontSize": 21, "titlePadding": 6, "labelFontSize": 18, "labelPadding": 4, "tickSize": 13, "tickWidth": 2, "tickColor": "black", "domainColor": "black", "domainWidth": 2}},
                     "y2": {"field": "q1"},
                     "color": {"field": "group", "type": "nominal", "scale": {"domain": ["Control", "ERα ΔOcy"], "range": ["#4a4aff", "#ff1010"]}, "legend": null}
                   }},
                  {"data": {"name": "boxes"}, "transform": [{"filter": "datum.site == 'Spine'"}],
                   "mark": {"type": "rule", "strokeWidth": 3},
                   "encoding": {"x": {"field": "group", "type": "nominal"}, "y": {"field": "q3", "type": "quantitative", "title": "Sost mRNA"}, "y2": {"field": "max"}, "color": {"field": "group", "type": "nominal", "legend": null}}},
                  {"data": {"name": "boxes"}, "transform": [{"filter": "datum.site == 'Spine'"}],
                   "mark": {"type": "tick", "thickness": 3, "size": 30},
                   "encoding": {"x": {"field": "group", "type": "nominal"}, "y": {"field": "min", "type": "quantitative", "title": "Sost mRNA"}, "color": {"field": "group", "type": "nominal", "legend": null}}},
                  {"data": {"name": "boxes"}, "transform": [{"filter": "datum.site == 'Spine'"}],
                   "mark": {"type": "tick", "thickness": 3, "size": 30},
                   "encoding": {"x": {"field": "group", "type": "nominal"}, "y": {"field": "max", "type": "quantitative", "title": "Sost mRNA"}, "color": {"field": "group", "type": "nominal", "legend": null}}},
                  {"data": {"name": "boxes"}, "transform": [{"filter": "datum.site == 'Spine'"}],
                   "mark": {"type": "bar", "filled": false, "strokeWidth": 3, "width": 62},
                   "encoding": {"x": {"field": "group", "type": "nominal"}, "y": {"field": "q1", "type": "quantitative", "title": "Sost mRNA"}, "y2": {"field": "q3"}, "color": {"field": "group", "type": "nominal", "legend": null}}},
                  {"data": {"name": "boxes"}, "transform": [{"filter": "datum.site == 'Spine'"}],
                   "mark": {"type": "tick", "thickness": 3, "size": 62},
                   "encoding": {"x": {"field": "group", "type": "nominal"}, "y": {"field": "median", "type": "quantitative", "title": "Sost mRNA"}, "color": {"field": "group", "type": "nominal", "legend": null}}},
                  {"data": {"name": "points"}, "transform": [{"filter": "datum.site == 'Spine'"}],
                   "mark": {"type": "point", "shape": "triangle-up", "filled": true, "size": 90, "opacity": 1, "strokeWidth": 0},
                   "encoding": {"x": {"field": "group", "type": "nominal"},
                     "xOffset": {"field": "jitter", "type": "quantitative", "scale": {"domain": [-5, 5], "range": [-33, 33]}},
                     "y": {"field": "value", "type": "quantitative", "title": "Sost mRNA"},
                     "fill": {"field": "group", "type": "nominal", "scale": {"domain": ["Control", "ERα ΔOcy"], "range": ["#1a1aff", "#ff0000"]}, "legend": null}}},
                  {"data": {"name": "tests"}, "transform": [{"filter": "datum.site == 'Spine'"}],
                   "mark": {"type": "rule", "strokeWidth": 3, "color": "black"},
                   "encoding": {"x": {"datum": "Control"}, "x2": {"datum": "ERα ΔOcy"}, "y": {"datum": 7.85}}},
                  {"data": {"name": "tests"}, "transform": [{"filter": "datum.site == 'Spine'"}],
                   "mark": {"type": "text", "fontStyle": "italic", "fontSize": 22, "baseline": "middle", "color": "black"},
                   "encoding": {"text": {"field": "p"}, "y": {"datum": 8.45}}}
                ]
              }
            ]
          },
          {
            "title": {"text": "B", "anchor": "start", "fontSize": 39, "fontWeight": "normal", "offset": 0, "dx": -60, "dy": 95},
            "vconcat": [
              {
                "title": {"text": "Femur Diaphysis", "frame": "group", "offset": 37},
                "width": 162, "height": 244,
                "layer": [
                  {"data": {"name": "boxes"}, "transform": [{"filter": "datum.site == 'Femur'"}],
                   "mark": {"type": "rule", "strokeWidth": 3},
                   "encoding": {
                     "x": {"field": "group", "type": "nominal", "scale": {"type": "point", "domain": ["Control", "ERα ΔOcy"], "padding": 0.62},
                           "axis": {"title": null, "labelAngle": 0, "labelExpr": "split(datum.label, ' ')", "labelFontSize": 22, "labelBaseline": {"condition": {"test": "datum.value == 'Control'", "value": "middle"}, "value": "line-bottom"}, "labelPadding": 35, "labelLineHeight": 27, "tickSize": 12, "tickWidth": 2, "tickColor": "black", "domainColor": "black", "domainWidth": 2}},
                     "y": {"field": "min", "type": "quantitative", "title": "Sost mRNA", "scale": {"domain": [0, 6], "nice": false},
                           "axis": {"values": [0, 2, 4, 6], "titleFontStyle": "italic", "titleFontWeight": "normal", "titleFontSize": 21, "titlePadding": 6, "labelFontSize": 18, "labelPadding": 4, "tickSize": 13, "tickWidth": 2, "tickColor": "black", "domainColor": "black", "domainWidth": 2}},
                     "y2": {"field": "q1"},
                     "color": {"field": "group", "type": "nominal", "scale": {"domain": ["Control", "ERα ΔOcy"], "range": ["#4a4aff", "#ff1010"]}, "legend": null}
                   }},
                  {"data": {"name": "boxes"}, "transform": [{"filter": "datum.site == 'Femur'"}],
                   "mark": {"type": "rule", "strokeWidth": 3},
                   "encoding": {"x": {"field": "group", "type": "nominal"}, "y": {"field": "q3", "type": "quantitative", "title": "Sost mRNA"}, "y2": {"field": "max"}, "color": {"field": "group", "type": "nominal", "legend": null}}},
                  {"data": {"name": "boxes"}, "transform": [{"filter": "datum.site == 'Femur'"}],
                   "mark": {"type": "tick", "thickness": 3, "size": 30},
                   "encoding": {"x": {"field": "group", "type": "nominal"}, "y": {"field": "min", "type": "quantitative", "title": "Sost mRNA"}, "color": {"field": "group", "type": "nominal", "legend": null}}},
                  {"data": {"name": "boxes"}, "transform": [{"filter": "datum.site == 'Femur'"}],
                   "mark": {"type": "tick", "thickness": 3, "size": 30},
                   "encoding": {"x": {"field": "group", "type": "nominal"}, "y": {"field": "max", "type": "quantitative", "title": "Sost mRNA"}, "color": {"field": "group", "type": "nominal", "legend": null}}},
                  {"data": {"name": "boxes"}, "transform": [{"filter": "datum.site == 'Femur'"}],
                   "mark": {"type": "bar", "filled": false, "strokeWidth": 3, "width": 62},
                   "encoding": {"x": {"field": "group", "type": "nominal"}, "y": {"field": "q1", "type": "quantitative", "title": "Sost mRNA"}, "y2": {"field": "q3"}, "color": {"field": "group", "type": "nominal", "legend": null}}},
                  {"data": {"name": "boxes"}, "transform": [{"filter": "datum.site == 'Femur'"}],
                   "mark": {"type": "tick", "thickness": 3, "size": 62},
                   "encoding": {"x": {"field": "group", "type": "nominal"}, "y": {"field": "median", "type": "quantitative", "title": "Sost mRNA"}, "color": {"field": "group", "type": "nominal", "legend": null}}},
                  {"data": {"name": "points"}, "transform": [{"filter": "datum.site == 'Femur'"}],
                   "mark": {"type": "point", "shape": "triangle-up", "filled": true, "size": 90, "opacity": 1, "strokeWidth": 0},
                   "encoding": {"x": {"field": "group", "type": "nominal"},
                     "xOffset": {"field": "jitter", "type": "quantitative", "scale": {"domain": [-5, 5], "range": [-33, 33]}},
                     "y": {"field": "value", "type": "quantitative", "title": "Sost mRNA"},
                     "fill": {"field": "group", "type": "nominal", "scale": {"domain": ["Control", "ERα ΔOcy"], "range": ["#1a1aff", "#ff0000"]}, "legend": null}}},
                  {"data": {"name": "tests"}, "transform": [{"filter": "datum.site == 'Femur'"}],
                   "mark": {"type": "rule", "strokeWidth": 3, "color": "black"},
                   "encoding": {"x": {"datum": "Control"}, "x2": {"datum": "ERα ΔOcy"}, "y": {"datum": 5.88}}},
                  {"data": {"name": "tests"}, "transform": [{"filter": "datum.site == 'Femur'"}],
                   "mark": {"type": "text", "fontStyle": "italic", "fontSize": 22, "baseline": "middle", "color": "black"},
                   "encoding": {"text": {"field": "p"}, "y": {"datum": 6.33}}}
                ]
              }
            ]
          }
        ]
      }
    ]
  },
  {
    "spacing": 86,
    "resolve": {"scale": {"color": "independent", "fill": "independent"}},
    "vconcat": [
      {
        "title": {"text": "C", "anchor": "start", "fontSize": 38, "fontWeight": "normal", "offset": 0, "dx": 32, "dy": 44},
        "bounds": "flush",
        "spacing": 12,
        "resolve": {"scale": {"color": "independent"}},
        "vconcat": [
          {
            "title": {"text": "Osteoblast", "frame": "group", "dx": 13, "offset": -8},
            "width": 756, "height": 20,
            "data": {"name": "samples"},
            "layer": [
              {"transform": [{"aggregate": [{"op": "min", "field": "sample", "as": "first"}, {"op": "max", "field": "sample", "as": "last"}], "groupby": ["group"]}],
               "mark": {"type": "rule", "strokeWidth": 3},
               "encoding": {
                 "x": {"field": "first", "type": "quantitative", "scale": {"domain": [0.5, 31.5], "nice": false, "zero": false}, "axis": null},
                 "x2": {"field": "last"},
                 "y": {"datum": 0, "type": "quantitative", "scale": {"domain": [0, 1]}, "axis": null},
                 "color": {"field": "group", "type": "nominal", "scale": {"domain": ["Control", "ERα ΔOcy"], "range": ["black", "#bfbfbf"]}, "legend": null}}},
              {"transform": [{"filter": "datum.group == 'Control'"}, {"aggregate": [{"op": "mean", "field": "sample", "as": "mid"}], "groupby": ["group"]}],
               "mark": {"type": "text", "fontSize": 26, "baseline": "middle", "color": "black", "dx": -9},
               "encoding": {"x": {"field": "mid", "type": "quantitative"}, "y": {"datum": 1}, "text": {"field": "group"}}},
              {"transform": [{"filter": "datum.group != 'Control'"}, {"aggregate": [{"op": "mean", "field": "sample", "as": "mid"}], "groupby": ["group"]}, {"calculate": "split(datum.group, ' ')[0]", "as": "part"}],
               "mark": {"type": "text", "fontSize": 26, "fontStyle": "italic", "align": "right", "baseline": "middle", "color": "black", "dx": -22},
               "encoding": {"x": {"field": "mid", "type": "quantitative"}, "y": {"datum": 1}, "text": {"field": "part"}}},
              {"transform": [{"filter": "datum.group != 'Control'"}, {"aggregate": [{"op": "mean", "field": "sample", "as": "mid"}], "groupby": ["group"]}, {"calculate": "split(datum.group, ' ')[1]", "as": "part"}],
               "mark": {"type": "text", "fontSize": 26, "align": "left", "baseline": "middle", "color": "black", "dx": -21},
               "encoding": {"x": {"field": "mid", "type": "quantitative"}, "y": {"datum": 1}, "text": {"field": "part"}}}
            ]
          },
          {
            "bounds": "flush",
            "spacing": 5,
            "resolve": {"scale": {"color": "independent"}},
            "hconcat": [
              {
                "width": 756, "height": 218,
                "view": {"stroke": "#808080", "strokeWidth": 1.5},
                "data": {"name": "osteo"},
                "title": {"text": "MANOVA: p=0.011", "orient": "bottom", "anchor": "end", "frame": "group", "fontSize": 21, "fontWeight": "normal", "offset": 0, "dx": -15, "dy": -37},
                "mark": {"type": "rect", "binSpacing": 0},
                "encoding": {
                  "x": {"field": "sample", "type": "quantitative", "bin": {"step": 1, "extent": [1, 32]}, "axis": null, "scale": {"domain": [1, 32], "nice": false, "zero": false}},
                  "y": {"field": "gene", "type": "nominal", "sort": ["Bglap", "Runx2", "Spp1", "Col1α1", "Col1α2", "Ibsp", "Alpl", "Sparc", "Sp7"], "scale": {"type": "band", "paddingInner": 0, "paddingOuter": 0},
                        "axis": {"title": null, "domain": false, "tickSize": 5, "tickColor": "#808080", "labelFontSize": 21, "labelFontStyle": "italic", "labelPadding": 3}},
                  "color": {"field": "z", "type": "quantitative", "scale": {"type": "linear", "domain": [-2.1, 0, 3.3], "range": ["#0000c8", "#ffffff", "#ff0000"], "interpolate": "rgb", "clamp": true},
                            "legend": {"orient": "none", "legendX": 0, "legendY": 228, "direction": "horizontal", "title": null, "gradientLength": 106, "gradientThickness": 18, "values": [-2, 0, 2], "labelFontSize": 17, "labelOffset": 6, "labelExpr": "datum.value < 0 ? '-' + abs(datum.value) : datum.label", "gradientStrokeColor": "#808080", "gradientStrokeWidth": 1}}
                }
              },
              {
                "width": 2, "height": 218,
                "data": {"name": "pOsteo"},
                "title": {"text": "p", "fontStyle": "italic", "fontWeight": "normal", "fontSize": 22, "anchor": "start", "frame": "group", "dx": 19, "offset": 9},
                "mark": {"type": "text", "align": "left", "baseline": "middle", "fontSize": 17.5},
                "encoding": {
                  "y": {"field": "gene", "type": "nominal", "sort": ["Bglap", "Runx2", "Spp1", "Col1α1", "Col1α2", "Ibsp", "Alpl", "Sparc", "Sp7"], "axis": null},
                  "text": {"field": "p"},
                  "color": {"condition": {"test": "toNumber(datum.p) < 0.05", "value": "#2e75b6"}, "value": "black"}
                }
              }
            ]
          }
        ]
      },
      {
        "title": {"text": "D", "anchor": "start", "fontSize": 38, "fontWeight": "normal", "offset": 0, "dx": 26, "dy": 28},
        "bounds": "flush",
        "spacing": 11,
        "resolve": {"scale": {"color": "independent"}},
        "vconcat": [
          {
            "title": {"text": "Wnt targets", "frame": "group", "dx": 8, "offset": 4},
            "width": 756, "height": 20,
            "data": {"name": "samples"},
            "layer": [
              {"transform": [{"aggregate": [{"op": "min", "field": "sample", "as": "first"}, {"op": "max", "field": "sample", "as": "last"}], "groupby": ["group"]}],
               "mark": {"type": "rule", "strokeWidth": 3},
               "encoding": {
                 "x": {"field": "first", "type": "quantitative", "scale": {"domain": [0.5, 31.5], "nice": false, "zero": false}, "axis": null},
                 "x2": {"field": "last"},
                 "y": {"datum": 0, "type": "quantitative", "scale": {"domain": [0, 1]}, "axis": null},
                 "color": {"field": "group", "type": "nominal", "scale": {"domain": ["Control", "ERα ΔOcy"], "range": ["black", "#bfbfbf"]}, "legend": null}}},
              {"transform": [{"filter": "datum.group == 'Control'"}, {"aggregate": [{"op": "mean", "field": "sample", "as": "mid"}], "groupby": ["group"]}],
               "mark": {"type": "text", "fontSize": 26, "baseline": "middle", "color": "black", "dx": -1, "dy": 1},
               "encoding": {"x": {"field": "mid", "type": "quantitative"}, "y": {"datum": 1}, "text": {"field": "group"}}},
              {"transform": [{"filter": "datum.group != 'Control'"}, {"aggregate": [{"op": "mean", "field": "sample", "as": "mid"}], "groupby": ["group"]}, {"calculate": "split(datum.group, ' ')[0]", "as": "part"}],
               "mark": {"type": "text", "fontSize": 26, "fontStyle": "italic", "align": "right", "baseline": "middle", "color": "black", "dx": -22, "dy": 1},
               "encoding": {"x": {"field": "mid", "type": "quantitative"}, "y": {"datum": 1}, "text": {"field": "part"}}},
              {"transform": [{"filter": "datum.group != 'Control'"}, {"aggregate": [{"op": "mean", "field": "sample", "as": "mid"}], "groupby": ["group"]}, {"calculate": "split(datum.group, ' ')[1]", "as": "part"}],
               "mark": {"type": "text", "fontSize": 26, "align": "left", "baseline": "middle", "color": "black", "dx": -21, "dy": 1},
               "encoding": {"x": {"field": "mid", "type": "quantitative"}, "y": {"datum": 1}, "text": {"field": "part"}}}
            ]
          },
          {
            "bounds": "flush",
            "spacing": 5,
            "resolve": {"scale": {"color": "independent"}},
            "hconcat": [
              {
                "width": 756, "height": 269,
                "view": {"stroke": "#808080", "strokeWidth": 1.5},
                "data": {"name": "wnt"},
                "title": {"text": "MANOVA: p=0.008", "orient": "bottom", "anchor": "end", "frame": "group", "fontSize": 21, "fontWeight": "normal", "offset": 0, "dx": -15, "dy": -37},
                "mark": {"type": "rect", "binSpacing": 0},
                "encoding": {
                  "x": {"field": "sample", "type": "quantitative", "bin": {"step": 1, "extent": [1, 32]}, "axis": null, "scale": {"domain": [1, 32], "nice": false, "zero": false}},
                  "y": {"field": "gene", "type": "nominal", "sort": ["Ccnd1", "Postn", "Lef1", "Axin2", "Cyr61", "Ephb4", "Gja1", "Tcf7", "Vcan", "Fosl1", "Opg"], "scale": {"type": "band", "paddingInner": 0, "paddingOuter": 0},
                        "axis": {"title": null, "domain": false, "tickSize": 5, "tickColor": "#808080", "labelFontSize": 21, "labelFontStyle": "italic", "labelPadding": 3}},
                  "color": {"field": "z", "type": "quantitative", "scale": {"type": "linear", "domain": [-2.75, 0, 3.9], "range": ["#0000c8", "#ffffff", "#ff0000"], "interpolate": "rgb", "clamp": true},
                            "legend": {"orient": "none", "legendX": 0, "legendY": 284, "direction": "horizontal", "title": null, "gradientLength": 106, "gradientThickness": 18, "values": [-2, 0, 2], "labelFontSize": 17, "labelOffset": 6, "labelExpr": "datum.value < 0 ? '-' + abs(datum.value) : datum.label", "gradientStrokeColor": "#808080", "gradientStrokeWidth": 1}}
                }
              },
              {
                "width": 2, "height": 269,
                "data": {"name": "pWnt"},
                "title": {"text": "p", "fontStyle": "italic", "fontWeight": "normal", "fontSize": 22, "anchor": "start", "frame": "group", "dx": 19, "offset": 9},
                "mark": {"type": "text", "align": "left", "baseline": "middle", "fontSize": 17.5},
                "encoding": {
                  "y": {"field": "gene", "type": "nominal", "sort": ["Ccnd1", "Postn", "Lef1", "Axin2", "Cyr61", "Ephb4", "Gja1", "Tcf7", "Vcan", "Fosl1", "Opg"], "axis": null},
                  "text": {"field": "p"},
                  "color": {"condition": {"test": "toNumber(datum.p) < 0.05", "value": "#2e75b6"}, "value": "black"}
                }
              }
            ]
          }
        ]
      }
    ]
  }
]
}
